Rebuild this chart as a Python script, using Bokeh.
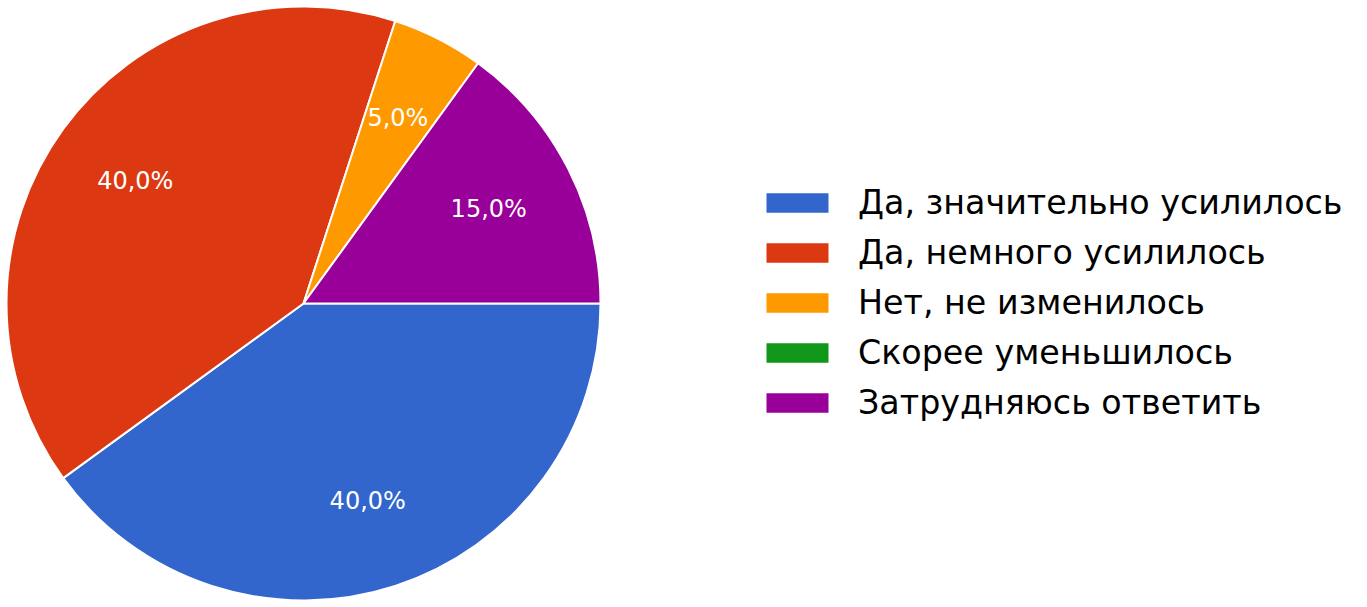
import math
from bokeh.plotting import figure
from bokeh.models import ColumnDataSource, Range1d
from bokeh.core.properties import value
from bokeh.embed import file_html
from bokeh.resources import INLINE

categories = ["Да, значительно усилилось", "Да, немного усилилось",
              "Нет, не изменилось", "Скорее уменьшилось", "Затрудняюсь ответить"]
values = [40, 40, 5, 0, 15]
colors = ["#3366CC", "#DC3912", "#FF9900", "#109618", "#990099"]

W, H = 1367, 607
cx, cy, R = 303, 304, 297

total = float(sum(values))
starts, ends, radii, lx, ly, labels = [], [], [], [], [], []
cum = 0.0
for v in values:
    a0 = cum / total * 2 * math.pi
    cum += v
    a1 = cum / total * 2 * math.pi
    # clockwise from 3 o'clock
    starts.append(-a1)
    ends.append(-a0)
    radii.append(R if v > 0 else 0)
    mid = -(a0 + a1) / 2
    lx.append(cx + 0.7 * R * math.cos(mid))
    ly.append(cy + 0.7 * R * math.sin(mid))
    labels.append(("%.1f%%" % (v / total * 100)).replace(".", ",") if v > 0 else "")

src = ColumnDataSource(dict(cat=categories, start=starts, end=ends, r=radii,
                            color=colors, lx=lx, ly=ly, lab=labels))

p = figure(width=W, height=H, x_range=Range1d(0, W), y_range=Range1d(0, H),
           output_backend="svg", toolbar_location=None, min_border=0)
p.axis.visible = False
p.grid.visible = False
p.outline_line_color = None

p.wedge(x=cx, y=cy, radius="r", start_angle="start", end_angle="end",
        fill_color="color", line_color="white", line_width=2,
        legend_field="cat", source=src)

p.text(x="lx", y="ly", text="lab", source=src, text_color="white",
       text_font=value("DejaVu Sans"), text_font_size="24px",
       text_align="center", text_baseline="middle")

lg = p.legend[0]
lg.location = (757, 185)
lg.border_line_color = None
lg.background_fill_alpha = 0
lg.padding = 0
lg.margin = 0
lg.spacing = 11
lg.glyph_width = 80
lg.glyph_height = 27
lg.label_standoff = 21
lg.label_text_font = "DejaVu Sans"
lg.label_text_font_size = "33.3px"
lg.label_text_color = "black"

open("out.html", "w").write(file_html(p, INLINE))
